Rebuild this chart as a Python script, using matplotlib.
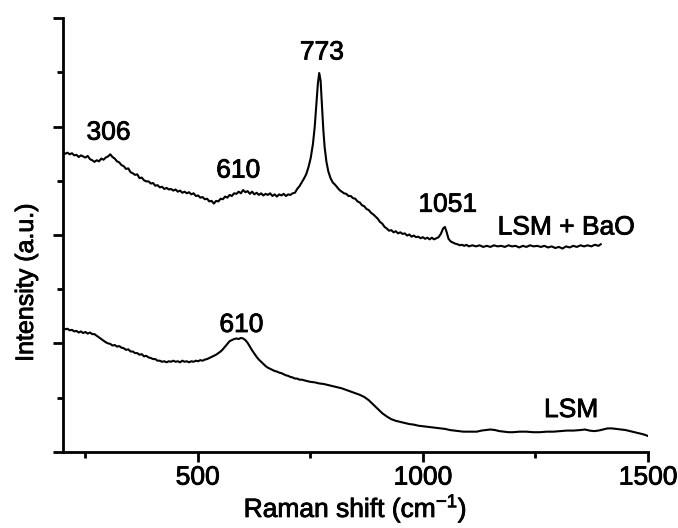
import matplotlib
matplotlib.use("Agg")
import matplotlib.pyplot as plt
import matplotlib.patheffects as pe
from matplotlib.ticker import MultipleLocator, NullFormatter

plt.rcParams['font.family'] = ['Liberation Sans', 'DejaVu Sans']
plt.rcParams['mathtext.fontset'] = 'custom'
plt.rcParams['mathtext.rm'] = 'Liberation Sans'
plt.rcParams['mathtext.sf'] = 'Liberation Sans'
plt.rcParams['mathtext.it'] = 'Liberation Sans'

# LSM + BaO spectrum (upper trace)
bao_x = [200, 206, 211, 216, 221, 226, 231, 236, 241, 246, 251, 256, 261, 266, 271, 276,
         281, 286, 291, 296, 301, 306, 311, 316, 321, 326, 331, 336, 341, 346, 351, 356,
         361, 366, 371, 376, 381, 386, 391, 396, 401, 406, 411, 416, 421, 426, 431, 436,
         441, 446, 451, 456, 461, 466, 471, 476, 481, 486, 491, 496, 501, 506, 511, 516,
         521, 526, 531, 536, 541, 546, 551, 556, 561, 566, 571, 576, 581, 586, 591, 596,
         601, 606, 611, 616, 621, 626, 631, 636, 641, 646, 651, 656, 661, 666, 671, 676,
         681, 686, 691, 696, 701, 706, 711, 716, 721, 726, 731, 736, 741, 746, 751, 756,
         760, 764, 767, 770, 773, 776, 779, 782, 786, 790, 795, 800, 805, 810, 815, 820,
         825, 830, 835, 840, 845, 850, 855, 860, 865, 870, 875, 880, 885, 890, 895, 900,
         905, 910, 915, 920, 925, 930, 935, 940, 945, 950, 955, 960, 965, 970, 975, 980,
         985, 990, 995, 1000, 1005, 1010, 1015, 1020, 1025, 1030, 1035, 1040, 1045, 1049,
         1053, 1057, 1062, 1067, 1072, 1077, 1082, 1087, 1092, 1097, 1102, 1110, 1118,
         1126, 1134, 1142, 1150, 1158, 1166, 1174, 1182, 1190, 1198, 1206, 1214, 1222,
         1230, 1238, 1246, 1254, 1262, 1270, 1278, 1286, 1294, 1302, 1310, 1318, 1326,
         1334, 1342, 1350, 1358, 1366, 1374, 1382, 1390, 1395]
bao_y = [5.53, 5.50, 5.52, 5.49, 5.51, 5.47, 5.48, 5.44, 5.47, 5.45, 5.43, 5.46, 5.40,
         5.38, 5.35, 5.38, 5.36, 5.41, 5.39, 5.43, 5.45, 5.49, 5.44, 5.41, 5.36, 5.34,
         5.29, 5.27, 5.22, 5.23, 5.16, 5.14, 5.11, 5.12, 5.05, 5.06, 5.01, 4.99, 4.99,
         4.95, 4.96, 4.91, 4.92, 4.88, 4.89, 4.85, 4.87, 4.84, 4.85, 4.82, 4.84, 4.80,
         4.82, 4.78, 4.80, 4.77, 4.79, 4.75, 4.77, 4.72, 4.73, 4.69, 4.70, 4.66, 4.67,
         4.62, 4.63, 4.58, 4.63, 4.62, 4.67, 4.66, 4.71, 4.69, 4.74, 4.72, 4.77, 4.76,
         4.80, 4.77, 4.83, 4.79, 4.81, 4.76, 4.80, 4.75, 4.78, 4.74, 4.77, 4.73, 4.76,
         4.74, 4.77, 4.72, 4.75, 4.71, 4.75, 4.73, 4.76, 4.72, 4.75, 4.74, 4.77, 4.78,
         4.85, 4.90, 4.97, 5.04, 5.12, 5.25, 5.42, 5.68, 6.00, 6.45, 6.80, 6.99, 6.85,
         6.40, 5.95, 5.62, 5.35, 5.18, 5.05, 4.97, 4.93, 4.88, 4.83, 4.80, 4.77, 4.76,
         4.72, 4.72, 4.68, 4.67, 4.62, 4.60, 4.55, 4.53, 4.48, 4.46, 4.41, 4.38, 4.34,
         4.30, 4.24, 4.21, 4.15, 4.12, 4.08, 4.09, 4.05, 4.07, 4.03, 4.05, 4.02, 4.03,
         3.99, 4.01, 3.97, 3.99, 3.96, 3.97, 3.94, 3.96, 3.93, 3.95, 3.92, 3.95, 3.92,
         3.94, 3.96, 4.02, 4.12, 4.15, 4.05, 3.93, 3.88, 3.86, 3.84, 3.83, 3.81, 3.82,
         3.80, 3.82, 3.79, 3.81, 3.79, 3.81, 3.78, 3.80, 3.78, 3.81, 3.79, 3.80, 3.78,
         3.81, 3.79, 3.80, 3.77, 3.80, 3.78, 3.81, 3.79, 3.80, 3.78, 3.80, 3.77, 3.79,
         3.76, 3.78, 3.75, 3.79, 3.77, 3.80, 3.78, 3.81, 3.79, 3.81, 3.79, 3.82, 3.80,
         3.83]

# LSM spectrum (lower trace)
lsm_x = [200, 206, 211, 216, 221, 226, 231, 236, 241, 246, 251, 256, 261, 266, 271, 276,
         281, 286, 291, 296, 301, 306, 311, 316, 321, 326, 331, 336, 341, 346, 351, 356,
         361, 366, 371, 376, 381, 386, 391, 396, 401, 406, 411, 416, 421, 426, 431, 436,
         441, 446, 451, 456, 461, 466, 471, 476, 481, 486, 491, 496, 501, 506, 511, 516,
         521, 526, 531, 536, 541, 546, 551, 556, 561, 566, 571, 576, 581, 586, 591, 596,
         601, 606, 611, 616, 621, 626, 631, 636, 641, 646, 651, 656, 661, 666, 671, 676,
         681, 686, 691, 696, 701, 706, 711, 716, 721, 726, 731, 740, 750, 760, 770, 780,
         790, 800, 810, 820, 830, 840, 850, 860, 870, 880, 890, 900, 910, 920, 930, 940,
         950, 960, 970, 980, 990, 1000, 1010, 1020, 1030, 1040, 1050, 1060, 1070, 1080,
         1090, 1100, 1110, 1120, 1130, 1140, 1150, 1160, 1170, 1180, 1190, 1200, 1215,
         1230, 1245, 1260, 1275, 1290, 1305, 1320, 1335, 1350, 1360, 1370, 1380, 1390,
         1400, 1410, 1420, 1430, 1440, 1450, 1460, 1470, 1480, 1490, 1500]
lsm_y = [2.28, 2.26, 2.27, 2.24, 2.25, 2.22, 2.23, 2.20, 2.22, 2.19, 2.21, 2.18, 2.20,
         2.17, 2.17, 2.14, 2.11, 2.08, 2.05, 2.02, 2.00, 1.99, 1.96, 1.97, 1.94, 1.95,
         1.92, 1.91, 1.88, 1.89, 1.85, 1.85, 1.82, 1.82, 1.79, 1.80, 1.76, 1.77, 1.74,
         1.73, 1.71, 1.71, 1.68, 1.68, 1.66, 1.67, 1.65, 1.67, 1.66, 1.68, 1.66, 1.67,
         1.65, 1.68, 1.66, 1.67, 1.65, 1.67, 1.66, 1.68, 1.67, 1.69, 1.68, 1.70, 1.71,
         1.73, 1.75, 1.77, 1.79, 1.82, 1.85, 1.89, 1.94, 1.99, 2.04, 2.06, 2.08, 2.09,
         2.08, 2.10, 2.09, 2.06, 2.01, 1.94, 1.87, 1.81, 1.75, 1.70, 1.66, 1.62, 1.58,
         1.55, 1.53, 1.51, 1.49, 1.48, 1.46, 1.45, 1.43, 1.41, 1.40, 1.38, 1.37, 1.35,
         1.35, 1.33, 1.33, 1.31, 1.29, 1.28, 1.26, 1.25, 1.23, 1.21, 1.19, 1.17, 1.14,
         1.11, 1.08, 1.05, 1.01, 0.95, 0.87, 0.79, 0.71, 0.65, 0.60, 0.57, 0.55, 0.53,
         0.51, 0.50, 0.48, 0.47, 0.46, 0.45, 0.44, 0.43, 0.42, 0.40, 0.39, 0.38, 0.37,
         0.37, 0.37, 0.37, 0.39, 0.40, 0.41, 0.40, 0.38, 0.37, 0.36, 0.36, 0.37, 0.37,
         0.36, 0.36, 0.37, 0.37, 0.38, 0.39, 0.39, 0.40, 0.41, 0.39, 0.38, 0.39, 0.41,
         0.43, 0.43, 0.42, 0.41, 0.40, 0.38, 0.36, 0.34, 0.32, 0.29]

# Peak annotations: (text, x, baseline y)
peak_labels = ["306", "610", "773", "1051", "610"]
peak_x = [302, 590, 776, 1055, 597]
peak_y = [5.76, 5.06, 7.24, 4.43, 2.21]

series_labels = ["LSM + BaO", "LSM"]
series_label_x = [1318, 1329]
series_label_y = [4.01, 0.64]

x_label = "Raman shift (cm$^{\\mathrm{-1}}$)"
y_label = "Intensity (a.u.)"

heavy = [pe.withStroke(linewidth=0.6, foreground='black')]

fig = plt.figure(figsize=(6.78, 5.28), dpi=100)
ax = fig.add_axes([0.0922, 0.1445, 0.8636, 0.8208])

ax.plot(bao_x, bao_y, color='black', lw=1.5)
ax.plot(lsm_x, lsm_y, color='black', lw=1.5)

fs = 19
for t, x, y in zip(peak_labels, peak_x, peak_y):
    ax.text(x, y, t, ha='center', va='baseline', fontsize=fs, path_effects=heavy)
for t, x, y in zip(series_labels, series_label_x, series_label_y):
    ax.text(x, y, t, ha='center', va='baseline', fontsize=fs, path_effects=heavy)

ax.set_xlim(200, 1500)
ax.set_ylim(0, 8)
ax.spines['top'].set_visible(False)
ax.spines['right'].set_visible(False)
for s in ['left', 'bottom']:
    ax.spines[s].set_linewidth(2.0)

ax.xaxis.set_major_locator(MultipleLocator(500))
ax.xaxis.set_minor_locator(MultipleLocator(250))
ax.yaxis.set_major_locator(MultipleLocator(2))
ax.yaxis.set_minor_locator(MultipleLocator(1))
ax.yaxis.set_major_formatter(NullFormatter())
ax.tick_params(which='major', direction='out', length=7, width=2.0, labelsize=fs, pad=3)
ax.tick_params(which='minor', direction='out', length=4, width=2.0)
for lab in ax.get_xticklabels():
    lab.set_path_effects(heavy)

xl = ax.set_xlabel(x_label, fontsize=fs, labelpad=2)
yl = ax.set_ylabel(y_label, fontsize=18)
xl.set_path_effects(heavy)
yl.set_path_effects(heavy)
ax.yaxis.set_label_coords(-0.042, 0.39)

fig.savefig("out.png", dpi=100)
